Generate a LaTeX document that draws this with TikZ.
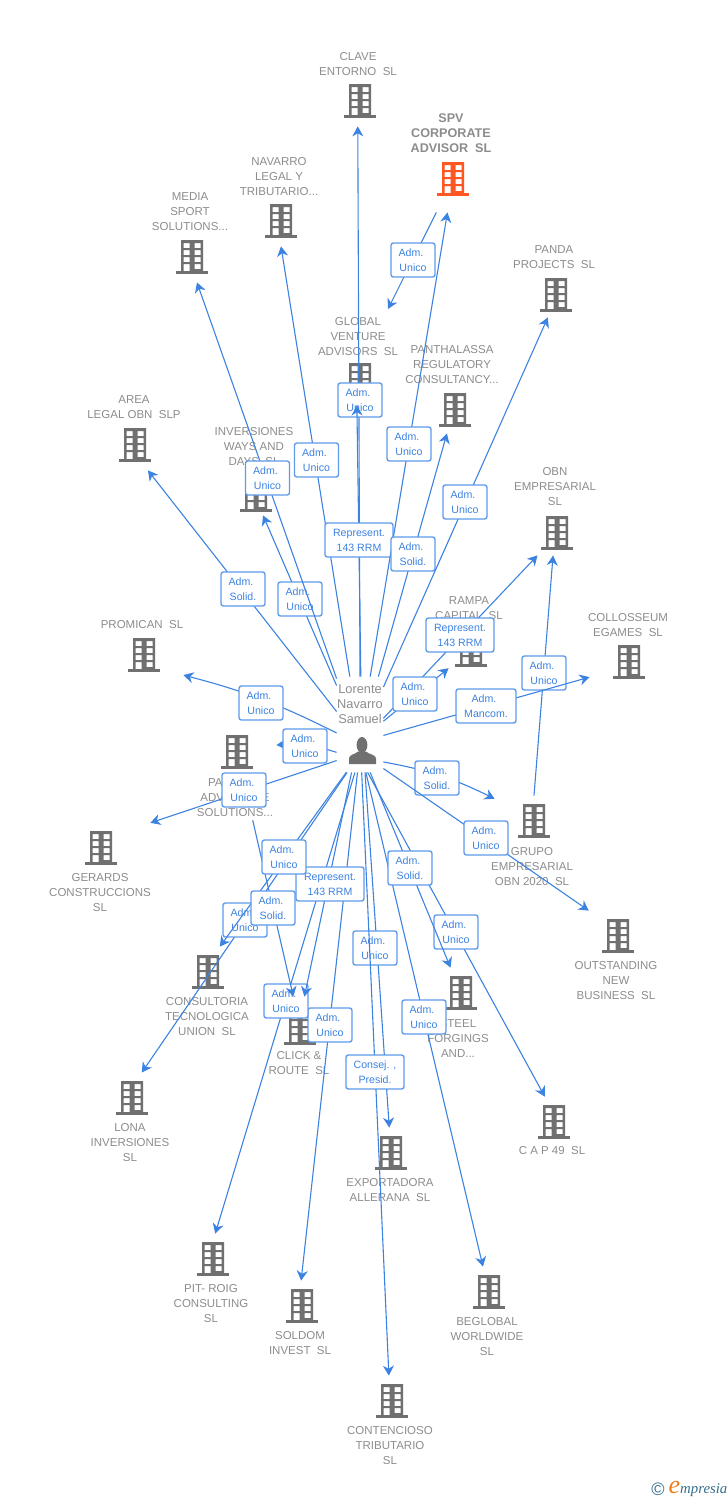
\documentclass[tikz,border=0pt]{standalone}
\usepackage{fontspec}
\setmainfont{Liberation Sans}
\newfontfamily\logofont{Liberation Serif}
\usetikzlibrary{arrows.meta}
\definecolor{relblue}{RGB}{60,130,225}
\definecolor{relframe}{RGB}{95,155,235}
\definecolor{bldggray}{RGB}{112,112,112}
\definecolor{namegray}{RGB}{140,140,140}
\definecolor{spvred}{RGB}{255,87,34}
\definecolor{logoteal}{RGB}{50,110,140}
\definecolor{logoorange}{RGB}{240,125,30}
\newcommand{\adm}{Adm.\kern2pt}

\begin{document}
\begin{tikzpicture}[
  x=0.5pt, y=-0.5pt,
  building/.style={rectangle, inner sep=0pt, minimum width=39pt, minimum height=25pt,
    path picture={\begin{scope}[shift={(path picture bounding box.center)}]
      \fill[#1, even odd rule] (-11,-17) rectangle (11,15)
        (-8.5,-14) rectangle (-2.5,-9) (2.5,-14) rectangle (8.5,-9)
        (-8.5,-7) rectangle (-2.5,-2) (2.5,-7) rectangle (8.5,-2)
        (-8.5,0) rectangle (-2.5,5) (2.5,0) rectangle (8.5,5)
        (-8.5,7) rectangle (-2.5,15) (2.5,7) rectangle (8.5,12);
      \fill[#1] (-16,14) rectangle (16,17);
    \end{scope}}},
  building/.default=bldggray,
  hub/.style={rectangle, inner sep=0pt, minimum width=23pt, minimum height=47.5pt,
    path picture={\begin{scope}[shift={(path picture bounding box.center)}]
      \fill[bldggray] (2,20.5) ellipse [x radius=5.4, y radius=8];
      \fill[bldggray] (-11,39.5) -- (-11,34) .. controls (-11,30) and (-5,30) .. (-2,27) -- (6,27)
        .. controls (9,30) and (16,30) .. (16,34) -- (16,39.5) -- cycle;
    \end{scope}}},
  bname/.style={align=center, inner sep=0pt, yshift=-0.5pt, text=namegray, font=\fontsize{5.75}{7.5}\selectfont},
  relbox/.style={rectangle, rounded corners=1.2pt, draw=relframe, line width=.7pt, fill=white,
    text=relblue, align=center, inner sep=0pt, minimum width=22pt, minimum height=17pt,
    font=\fontsize{5.3}{7.5}\selectfont},
  arrow/.style={-{Stealth[length=5pt,width=5.5pt,inset=1.6pt]}, color=relblue, line width=.55pt}
]
\useasboundingbox (0,0) rectangle (728,1500);

% Companies and their names
\node[building] (clave) at (360,101) {};
\node[bname] (claveT) at (358,63.5) {CLAVE\\ENTORNO~~SL};
\node[building=spvred, minimum height=33pt] (spv) at (453,179) {};
\node[bname, font=\fontsize{6.3}{7.5}\selectfont\bfseries] (spvT) at (451,132) {SPV\\CORPORATE\\ADVISOR~~SL};
\node[building] (navarro) at (281,221) {};
\node[bname] (navarroT) at (279,176) {NAVARRO\\LEGAL Y\\TRIBUTARIO...};
\node[building] (media) at (192,257) {};
\node[bname] (mediaT) at (190,211) {MEDIA\\SPORT\\SOLUTIONS...};
\node[building, minimum height=22pt] (panda) at (556,295) {};
\node[bname] (pandaT) at (554,256.5) {PANDA\\PROJECTS~~SL};
\node[building] (global) at (360,380) {};
\node[bname] (globalT) at (358,336) {GLOBAL\\VENTURE\\ADVISORS~~SL};
\node[building, minimum height=23pt] (panth) at (455,410) {};
\node[bname] (panthT) at (452,364) {PANTHALASSA\\REGULATORY\\CONSULTANCY...};
\node[building] (area) at (135,445) {};
\node[bname] (areaT) at (134,406.5) {AREA\\LEGAL OBN~~SLP};
\node[building, minimum height=20pt] (inver) at (256,495) {};
\node[bname] (inverT) at (254,446) {INVERSIONES\\WAYS AND\\DAYS~~SL};
\node[building, minimum height=22pt] (obn) at (557,533) {};
\node[bname] (obnT) at (555,486) {OBN\\EMPRESARIAL\\SL};
\node[building, minimum width=22pt, minimum height=18pt] (rampa) at (471,650) {};
\node[bname] (rampaT) at (469,607.5) {RAMPA\\CAPITAL~~SL};
\node[building] (colloss) at (629,662) {};
\node[bname] (collossT) at (628,624.5) {COLLOSSEUM\\EGAMES~~SL};
\node[building] (promican) at (144,655) {};
\node[bname] (promicanT) at (142,624) {PROMICAN~~SL};
\node[building] (partner) at (237,752) {};
\node[bname] (partnerT) at (235,797) {PARTNER\\ADVANTAGE\\SOLUTIONS...};
\node[building, minimum width=49pt] (gerards) at (101,848) {};
\node[bname] (gerardsT) at (100,892) {GERARDS\\CONSTRUCCIONS\\SL};
\node[building] (grupo) at (534,821) {};
\node[bname] (grupoT) at (532,866) {GRUPO\\EMPRESARIAL\\OBN 2020~~SL};
\node[building] (outst) at (618,936) {};
\node[bname] (outstT) at (616,980) {OUTSTANDING\\NEW\\BUSINESS~~SL};
\node[building] (consult) at (208,972) {};
\node[bname] (consultT) at (207,1016) {CONSULTORIA\\TECNOLOGICA\\UNION~~SL};
\node[building, minimum height=31pt] (click) at (300,1028) {};
\node[bname] (clickT) at (299,1062.5) {CLICK \&\\ROUTE~~SL};
\node[building] (steel) at (461,993) {};
\node[bname] (steelT) at (458,1037) {STEEL\\FORGINGS\\AND...};
\node[building] (lona) at (132,1098) {};
\node[bname] (lonaT) at (130,1142) {LONA\\INVERSIONES\\SL};
\node[building] (cap) at (554,1122) {};
\node[bname] (capT) at (552,1150) {C A P 49~~SL};
\node[building] (export) at (391,1153) {};
\node[bname] (exportT) at (390,1189.5) {EXPORTADORA\\ALLERANA~~SL};
\node[building] (pit) at (213,1259) {};
\node[bname] (pitT) at (211,1303) {PIT- ROIG\\CONSULTING\\SL};
\node[building] (soldom) at (302,1306) {};
\node[bname] (soldomT) at (300,1342.5) {SOLDOM\\INVEST~~SL};
\node[building] (beglobal) at (489,1292) {};
\node[bname] (beglobalT) at (487,1336) {BEGLOBAL\\WORLDWIDE\\SL};
\node[building] (contenc) at (392,1401) {};
\node[bname] (contencT) at (390,1445) {CONTENCIOSO\\TRIBUTARIO\\SL};

% The person
\node[hub] (person) at (360,724.5) {};
\node[bname, font=\fontsize{6.4}{7.5}\selectfont] (personT) at (360,703) {Lorente\\Navarro\\Samuel};
\coordinate (tipGlobal) at (388,309);

% Links going up
\draw[arrow] (person.151.5) -- (area.297.5);
\node[relbox] (r1) at (243,589) {\adm\\Solid.};
\draw[arrow] (person.121) -- (inver.289);
\node[relbox] (r2) at (300,599) {\adm\\Unico};
\draw[arrow] (person.117) -- (media.281);
\node[relbox] (r3) at (267.5,478) {\adm\\Unico};
\draw[arrow] (person.102) -- (navarro.south);
\node[relbox] (r4) at (316.5,460) {\adm\\Unico};
\draw[arrow] (person.90) -- (clave.265);
\node[relbox] (r5) at (360,400) {\adm\\Unico};
\draw[arrow] (person.89) -- (global.263);
\node[relbox, minimum width=34pt] (r6) at (359,540) {Represent.\\143 RRM};
\draw[arrow] (person.78) -- (spv);
\node[relbox] (r7) at (409,444) {\adm\\Unico};
\draw[arrow] (spv) -- (tipGlobal);
\node[relbox] (r8) at (413,260) {\adm\\Unico};
\draw[arrow] (person.69) -- (panth.251);
\node[relbox] (r9) at (413,554) {\adm\\Solid.};
\draw[arrow] (person.58) -- (panda.250);
\node[relbox] (r10) at (465,502) {\adm\\Unico};

% Links to the right
\draw[arrow] (person.15.8) -- (obn.229);
\node[relbox, minimum width=34pt] (r11) at (460,635) {Represent.\\143 RRM};
\draw[arrow] (person.8.6) -- (rampa);
\node[relbox] (r12) at (415,694) {\adm\\Unico};
\draw[arrow] (grupo.north) -- (obn.260);
\node[relbox] (r13) at (544,673) {\adm\\Unico};
\draw[arrow] (person.335.5) -- (colloss.201);
\node[relbox, minimum width=30pt] (r14) at (486,706) {\adm\\Mancom.};
\draw[arrow] (person.302) to[bend left=8] (grupo);
\node[relbox] (r15) at (437,778) {\adm\\Solid.};
\draw[arrow] (person.298.4) -- (outst.139);
\node[relbox] (r16) at (486,838) {\adm\\Unico};

% Links to the left
\draw[arrow] (person.200.3) to[bend right=6] (promican.333);
\node[relbox] (r17) at (261,703) {\adm\\Unico};
\draw[arrow] (person.230) to[bend right=11] (partner.10);
\node[relbox] (r18) at (305,746) {\adm\\Unico};
\draw[arrow] (person.237) -- (gerards.27);
\node[relbox] (r19) at (244,790) {\adm\\Unico};

% Links going down
\draw[arrow] (person.276) -- (export);
\node[relbox] (r20) at (375,948) {\adm\\Unico};
\draw[arrow] (person.272.4) -- (contenc.97);
\node[relbox, minimum width=29pt] (r21) at (375,1072) {Consej. ,\\Presid.};
\draw[arrow] (person.277.2) -- (beglobal);
\node[relbox] (r22) at (424,1017) {\adm\\Unico};
\draw[arrow] (person.279.6) -- (cap.110);
\node[relbox] (r23) at (456,932) {\adm\\Unico};
\draw[arrow] (person.282) -- (steel);
\node[relbox] (r24) at (410,868) {\adm\\Solid.};
\draw[arrow] (person.267.6) -- (soldom.92);
\node[relbox] (r25) at (330,1025) {\adm\\Unico};
\draw[arrow] (person.264) -- (pit.85.4);
\node[relbox] (r26) at (286,1001) {\adm\\Unico};
\draw[arrow] (person.260.4) -- (click.82.6);
\node[relbox, minimum width=34pt] (r27) at (330,884) {Represent.\\143 RRM};
\draw[arrow] (person.255.9) -- (lona.69);
\node[relbox] (r28) at (245,920) {\adm\\Unico};
\draw[arrow] (person.254) -- (consult.65);
\draw[arrow, shorten <=22pt] (partner) -- (click.102.7);
\node[relbox] (r29) at (273,908) {\adm\\Solid.};
\node[relbox] (r30) at (284,857) {\adm\\Unico};

% Brand mark
\node[inner sep=0pt, text=logoteal, font=\fontsize{9}{9}\selectfont] (copyr) at (658,1489) {©};
\node[inner sep=0pt, font=\logofont\itshape\fontsize{7.4}{9}\selectfont, text=logoteal] (brand) at (698,1489)
  {\textcolor{logoorange}{\fontsize{13}{9}\selectfont e}mpresia};
\end{tikzpicture}
\end{document}
